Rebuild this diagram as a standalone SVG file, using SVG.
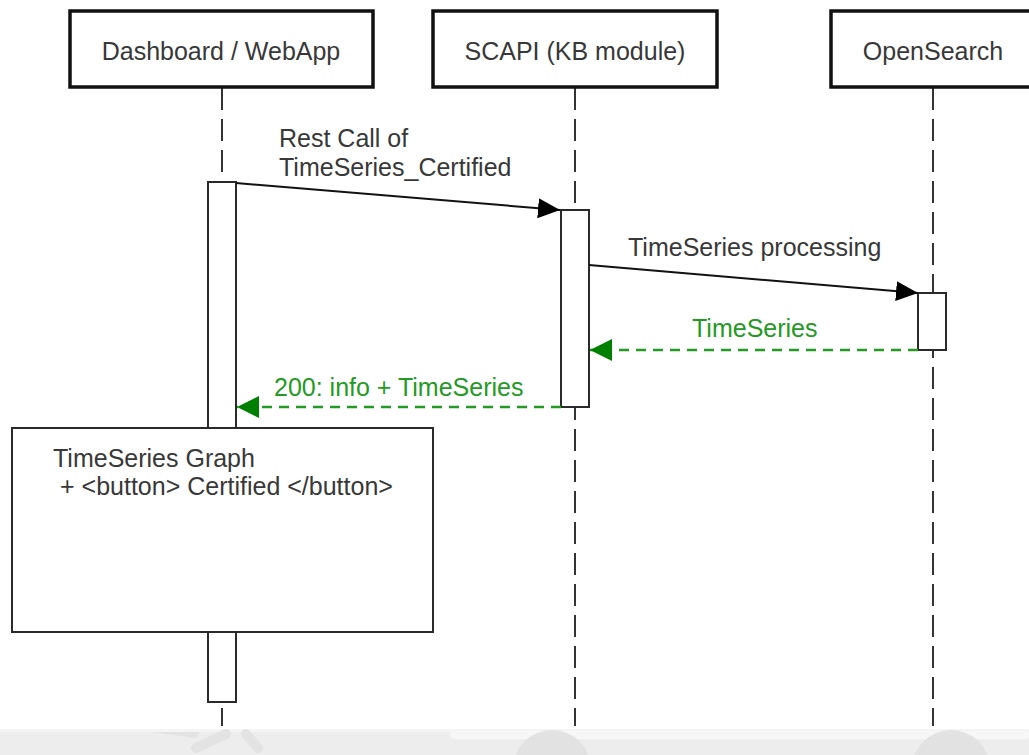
<svg xmlns="http://www.w3.org/2000/svg" width="1029" height="755" viewBox="0 0 1029 755">
<style>
.hdr{fill:#fff;stroke:#111;stroke-width:3.5}
.life{stroke:#333;stroke-width:2;stroke-dasharray:22 9;fill:none}
.act{fill:#fff;stroke:#2a2a2a;stroke-width:2}
.t{font-family:"Liberation Sans",Arial,sans-serif;font-size:25px;fill:#383838}
.g{font-family:"Liberation Sans",Arial,sans-serif;font-size:25px;fill:#239a23}
.msg{stroke:#111;stroke-width:2;fill:none}
.ret{stroke:#239a23;stroke-width:2.5;stroke-dasharray:10 7;fill:none}
</style>
<defs>
<marker id="ab" markerUnits="userSpaceOnUse" markerWidth="24" markerHeight="22" refX="22" refY="10" orient="auto"><path d="M0,0 L22,10 L0,20 z" fill="#000"/></marker>
<marker id="ag" markerUnits="userSpaceOnUse" markerWidth="24" markerHeight="24" refX="22" refY="11" orient="auto"><path d="M0,0 L22,11 L0,22 z" fill="#008000"/></marker>
</defs>
<rect width="1029" height="755" fill="#fff"/>
<g id="background-band">
<rect x="0" y="729" width="1029" height="26" fill="#ededed"/>
<rect x="0" y="729" width="1029" height="3" fill="#f4f4f4"/>
<rect x="450" y="731" width="580" height="8" rx="6" fill="#f7f7f7"/>
<circle cx="552" cy="769" r="39" fill="#e2e2e2"/>
<circle cx="951" cy="769" r="39" fill="#e2e2e2"/>
<g stroke="#e3e3e3" stroke-width="10" stroke-linecap="round" fill="none">
<line x1="196" y1="748" x2="226" y2="734"/>
<line x1="246" y1="734" x2="258" y2="748"/>
</g>
<polygon points="150,732 200,732 196,738" fill="#e3e3e3"/>
</g>
<g id="lifelines">
<line class="life" x1="222" y1="88" x2="222" y2="726"/>
<line class="life" x1="575" y1="88" x2="575" y2="726"/>
<line class="life" x1="933" y1="88" x2="933" y2="726"/>
</g>
<g id="dashboard">
<rect class="hdr" x="70" y="11" width="303" height="76"/>
<text class="t" x="221" y="60" text-anchor="middle">Dashboard / WebApp</text>
</g>
<g id="scapi">
<rect class="hdr" x="433" y="11" width="284" height="76"/>
<text class="t" x="575" y="60" text-anchor="middle">SCAPI (KB module)</text>
</g>
<g id="opensearch">
<rect class="hdr" x="831" y="11" width="210" height="76"/>
<text class="t" x="933" y="60" text-anchor="middle">OpenSearch</text>
</g>
<g id="dashboard-activation">
<rect class="act" x="208" y="182" width="28" height="520"/>
</g>
<g id="scapi-activation">
<rect class="act" x="561" y="210" width="28" height="197"/>
</g>
<g id="opensearch-activation">
<rect class="act" x="918" y="293" width="28" height="57"/>
</g>
<g id="timeseries-graph">
<rect class="act" x="12" y="428" width="421" height="204"/>
<text class="t" x="53" y="467">TimeSeries Graph</text>
<text class="t" x="60" y="495">+ &lt;button&gt; Certified &lt;/button&gt;</text>
</g>
<g id="connectors">
<line class="msg" x1="236" y1="183" x2="560" y2="210" marker-end="url(#ab)"/>
<text class="t" x="279" y="147">Rest Call of</text>
<text class="t" x="279" y="176">TimeSeries_Certified</text>
<line class="msg" x1="589" y1="265" x2="918" y2="293" marker-end="url(#ab)"/>
<text class="t" x="628" y="256">TimeSeries processing</text>
<line class="ret" x1="918" y1="350" x2="590" y2="350" marker-end="url(#ag)"/>
<text class="g" x="692" y="337">TimeSeries</text>
<line class="ret" x1="561" y1="407" x2="237" y2="407" marker-end="url(#ag)"/>
<text class="g" x="274" y="396">200: info + TimeSeries</text>
</g>
</svg>
